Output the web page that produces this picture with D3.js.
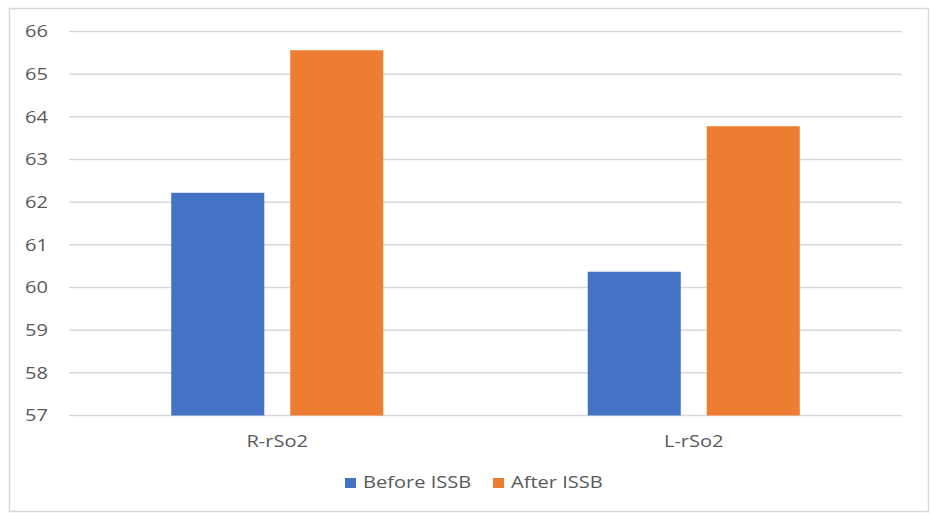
<!DOCTYPE html>
<html>
<head>
<meta charset="utf-8">
<script src="https://cdn.jsdelivr.net/npm/d3@7"></script>
<style>
  body { margin: 0; background: #fff; }
  text { font-family: "Open Sans", "Noto Sans", sans-serif; fill: #595959; }
</style>
</head>
<body>
<div id="chart"></div>
<script>
const categories = ["R-rSo2", "L-rSo2"];
const seriesNames = ["Before ISSB", "After ISSB"];
const beforeValues = [62.22, 60.37];
const afterValues = [65.56, 63.78];
const yTicks = [57, 58, 59, 60, 61, 62, 63, 64, 65, 66];

const colors = {"Before ISSB": "#4472C4", "After ISSB": "#ED7D31"};

const W = 930, H = 513;
const plot = {left: 69, right: 902, top: 31.5, bottom: 415.5};
const fontSize = 17, stretch = 1.18; // the picture's text is a bit wide

const svg = d3.select("#chart")
  .append("svg")
  .attr("width", W)
  .attr("height", H);

// outer frame
svg.append("rect")
  .attr("x", 9.5).attr("y", 8.5)
  .attr("width", 919).attr("height", 503)
  .attr("fill", "#fff")
  .attr("stroke", "#d9d9d9")
  .attr("stroke-width", 1.5);

const y = d3.scaleLinear()
  .domain([57, 66])
  .range([plot.bottom, plot.top]);

const x0 = d3.scaleBand()
  .domain(categories)
  .range([plot.left, plot.right])
  .padding(0);

const x1 = d3.scaleBand()
  .domain(seriesNames)
  .range([0, x0.bandwidth()])
  .paddingInner(0.218)
  .paddingOuter(0.859);

// gridlines
svg.append("g")
  .selectAll("line")
  .data(yTicks)
  .enter()
  .append("line")
  .attr("x1", plot.left)
  .attr("x2", plot.right)
  .attr("y1", d => y(d))
  .attr("y2", d => y(d))
  .attr("stroke", "#d9d9d9")
  .attr("stroke-width", 1.5);

// y axis labels
const yAxis = svg.append("g")
  .attr("transform", `translate(${plot.left - 21},0)`)
  .call(d3.axisLeft(y).tickValues(yTicks).tickSize(0).tickPadding(0));
yAxis.select(".domain").remove();
yAxis.selectAll("text")
  .attr("font-size", fontSize)
  .attr("fill", "#595959")
  .attr("transform", `scale(${stretch},1)`)
  .style("font-family", "'Open Sans', sans-serif");

// bars
const rows = categories.map((c, i) => ({cat: c, values: [
  {name: "Before ISSB", v: beforeValues[i]},
  {name: "After ISSB", v: afterValues[i]}
]}));

const groups = svg.selectAll(".grp")
  .data(rows)
  .enter()
  .append("g")
  .attr("class", "grp")
  .attr("transform", d => `translate(${x0(d.cat)},0)`);

groups.selectAll("rect")
  .data(d => d.values)
  .enter()
  .append("rect")
  .attr("x", d => x1(d.name))
  .attr("y", d => y(d.v))
  .attr("width", x1.bandwidth())
  .attr("height", d => y(57) - y(d.v))
  .attr("fill", d => colors[d.name]);

// x axis labels
const xAxis = svg.append("g")
  .attr("transform", `translate(0,${plot.bottom + 19})`)
  .call(d3.axisBottom(x0).tickSize(0).tickPadding(0));
xAxis.select(".domain").remove();
xAxis.selectAll("text")
  .attr("font-size", fontSize)
  .attr("fill", "#595959")
  .attr("transform", `scale(${stretch},1)`)
  .style("font-family", "'Open Sans', sans-serif");

// legend
const legendItems = [
  {name: "Before ISSB", x: 345},
  {name: "After ISSB", x: 493}
];
const legend = svg.append("g");
legendItems.forEach(d => {
  legend.append("rect")
    .attr("x", d.x).attr("y", 478)
    .attr("width", 11).attr("height", 10)
    .attr("fill", colors[d.name]);
  legend.append("text")
    .attr("transform", `translate(${d.x + 18},488) scale(${stretch},1)`)
    .attr("font-size", fontSize)
    .text(d.name);
});
</script>
</body>
</html>
